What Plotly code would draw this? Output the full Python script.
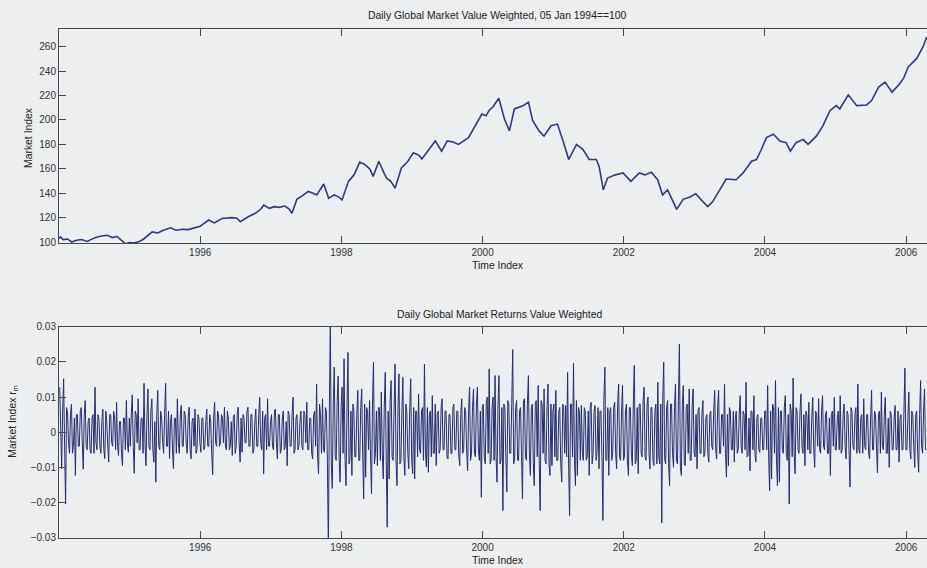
import plotly.graph_objects as go

# ---------------------------------------------------------------------------
# Daily global market index (value weighted, 05 Jan 1994 = 100)
# time in decimal years, index level
# ---------------------------------------------------------------------------
index_time = [
    1994.00, 1994.02, 1994.06, 1994.12, 1994.18, 1994.25, 1994.32, 1994.40, 1994.51, 1994.60,
    1994.68, 1994.76, 1994.82, 1994.90, 1994.94, 1995.00, 1995.06, 1995.14, 1995.20, 1995.32,
    1995.40, 1995.47, 1995.58, 1995.66, 1995.75, 1995.83, 1995.92, 1996.00, 1996.06, 1996.12,
    1996.20, 1996.31, 1996.45, 1996.52, 1996.57, 1996.68, 1996.78, 1996.86, 1996.90, 1996.98,
    1997.05, 1997.11, 1997.20, 1997.26, 1997.30, 1997.37, 1997.45, 1997.53, 1997.60, 1997.65,
    1997.75, 1997.82, 1997.90, 1997.96, 1998.01, 1998.10, 1998.18, 1998.26, 1998.33, 1998.40,
    1998.45, 1998.53, 1998.60, 1998.64, 1998.70, 1998.76, 1998.85, 1998.94, 1999.02, 1999.10,
    1999.14, 1999.24, 1999.33, 1999.42, 1999.50, 1999.58, 1999.66, 1999.80, 1999.89, 1999.99,
    2000.05, 2000.09, 2000.15, 2000.23, 2000.31, 2000.38, 2000.45, 2000.57, 2000.65, 2000.71,
    2000.80, 2000.87, 2000.97, 2001.06, 2001.14, 2001.22, 2001.33, 2001.42, 2001.51, 2001.61,
    2001.65, 2001.71, 2001.77, 2001.88, 2001.99, 2002.10, 2002.22, 2002.30, 2002.39, 2002.48,
    2002.55, 2002.62, 2002.75, 2002.84, 2002.93, 2003.02, 2003.12, 2003.19, 2003.26, 2003.36,
    2003.45, 2003.59, 2003.69, 2003.81, 2003.88, 2003.95, 2004.02, 2004.12, 2004.21, 2004.30,
    2004.36, 2004.44, 2004.54, 2004.61, 2004.73, 2004.82, 2004.92, 2005.01, 2005.06, 2005.18,
    2005.30, 2005.44, 2005.51, 2005.61, 2005.70, 2005.80, 2005.90, 2005.96, 2006.03, 2006.15,
    2006.24, 2006.29,
]
index_level = [
    102.8, 104.2, 102.0, 102.5, 100.0, 101.5, 102.0, 100.5, 103.6, 105.0,
    105.5, 103.6, 104.7, 100.5, 98.6, 99.5, 99.2, 100.5, 102.5, 108.3,
    107.4, 109.5, 111.6, 109.7, 110.5, 110.2, 112.0, 113.0, 115.5, 118.0,
    115.7, 119.3, 120.0, 119.5, 116.6, 120.7, 123.5, 127.0, 130.3, 127.6,
    129.0, 128.4, 129.5, 127.0, 123.5, 135.0, 138.0, 141.4, 140.0, 138.6,
    147.5, 135.9, 138.6, 137.0, 134.5, 149.7, 155.0, 165.4, 163.5, 160.0,
    153.8, 166.2, 157.0, 152.4, 149.7, 144.1, 160.7, 166.0, 173.1, 171.0,
    168.1, 176.0, 182.8, 174.5, 182.8, 182.0, 180.0, 185.5, 195.2, 204.8,
    203.5, 207.6, 211.0, 217.8, 200.7, 191.0, 209.0, 211.7, 214.5, 199.3,
    191.0, 186.9, 195.2, 196.6, 182.8, 167.6, 180.0, 175.9, 167.6, 167.6,
    162.1, 142.8, 152.4, 155.0, 156.6, 149.7, 156.6, 155.0, 157.1, 151.0,
    138.6, 142.8, 126.8, 135.0, 136.7, 139.5, 133.1, 129.0, 133.1, 142.8,
    151.6, 151.0, 156.6, 166.2, 167.6, 176.0, 185.5, 188.3, 182.8, 181.4,
    174.5, 181.4, 184.1, 180.0, 186.9, 195.2, 207.6, 211.7, 209.0, 220.6,
    211.7, 212.3, 215.9, 226.9, 231.0, 222.8, 229.0, 233.8, 243.5, 250.4,
    260.0, 268.0,
]

# ---------------------------------------------------------------------------
# Value-weighted market returns, in per-mille.
# Each calendar year holds 72 evenly spaced observations starting 05 Jan 1994:
# the "a" rows sit on whole steps, the "b" rows on the half steps between them.
# ---------------------------------------------------------------------------
ret_a = {
    1994: [12.8, -10.4, 15.2, -20.4, 5.5, -6, 8.0, -4, -12.3, 5, -4, 7.0, -10.5, 9.0, -5, 4, -6, 5,
           12.8, -5, 4, -6, 6.5, -7.5, 3, -8.5, 5, -4, 4, 8.5, -6.6, 3, -9.5, 4, 9.0, -5.7],
    1995: [-4, 10.6, -11.7, 5, 9.5, -5, 4, 13.9, -9.5, 12.3, -5, 9.5, -8.5, -14.2, 11.9, -5, 4, -6,
           13.9, -4, -7.5, 5, -10.4, 4, 9.5, -6, 7.6, -4, 5, -6, 7.1, -7.6, 4, 6.6, -5, 4],
    1996: [-5.7, 4, -4, 6.6, -4, 3, -12.1, 8.5, -4, 5, -3, 4, 7.1, -5, 4, -4, -6.6, 5,
           -4, 7.1, -8.5, -5.7, 4, -3, 7.1, -4, 5, -5, 6.6, -4, 9.9, -5, -11.8, 5, 9.5, -4],
    1997: [5, -5, 6.6, -7.6, 5, -5, 6, -4, -9.5, 5, -4, 10, -5, 5, -3.8, 6, -5, 5,
           8.5, -5, 4, -7.6, 6, 13.7, -11.8, 5, 9.5, -5.7, 6, -34, 31, -16, 18.5, -8, 16, -14.2],
    1998: [12.8, 20.9, -15.2, 22.7, -8, -12.3, 6, -7, 11.9, -8, 12.3, -19, -12.8, 6, 9, -17.5, 19.9, -6,
           -9.5, 7, 11.4, -13.3, 17, -27, -13.3, 14.7, -8, 19.4, -15.2, 16.6, -8, 15.6, -12.3, 6, -10.4, 15.2],
    1999: [-11.8, -13.3, 6, 10.9, -6, 7, 19.4, -9.9, -11.4, 6, 10.4, -6, -9.5, 6, -5, 9.5, -5, 6,
           -7.6, 5, -6, 8, -5, 6, -9.5, 9.5, -5, 6, -11, 12.8, -6, 12.3, -7, 12.8, -8, -18.5],
    2000: [8, -9, 10, 18, -8, 10, 16.1, -14.2, 16.1, -8, -22.3, 7, -17, 8, -6, 23.5, -7.6, 9,
           -8, 7, -19, 9.5, -8, 16.1, -12.3, 8, -15.2, 9, 13.3, -22.3, 8, 12.3, -9, 13.7, -12.3, -9.5],
    2001: [8, 11.9, -8, 7, -14.2, 7, 7.6, 17, -23.7, 8, 19.6, -15.2, -12.3, 6, 7.6, -8, 6, -7,
           -12.3, 8.5, -6, 7.6, -6, -10.4, 6, -25.1, 18.5, -8, -12.3, 7, -6, 8.5, -10.4, 13.7, -8, 13.3],
    2002: [-7, 8, -12.3, 7, -9.5, 19, -8, -11.8, 8, -7, 12.8, -8, 10, -10.4, 7, -9.5, 8, 14.2,
           -9, -25.8, 19.9, -9, 9, -15.2, 8, -10, 13.7, -9, 25.1, -12.3, 13.3, -9.5, 8, 12.3, -8, 12.3],
    2003: [-7, -10.4, 7, -6, 9, -6, 5, -8.5, 6, -5, 11.9, -7.6, 11.9, -6, 5, 13.7, -12.8, -9.5,
           6, -5, -8.5, 6, -5, 10.4, -6, 5, 14.2, -6.6, -11, 6, 10.4, -8.5, 5, -5.7, 4, -5],
    2004: [6, 13.3, -16.6, -13.3, 7, 14.7, -15.2, -14.2, 6, -6, 10.4, -8, -20.4, 6, 15.4, -11.8, 6, -6,
           10.9, -6, -9.5, 5, 8.5, -6, 9.9, -10, 5, 9.5, -6, 10.4, -5, 6, -6, -12.3, 6, 9.9],
    2005: [-5, 6, 10.4, -5, 8, -7.6, 5, -15.6, 6, -5, 7, 13.7, -6, 5, 9.5, -5, 5, -7.6,
           11.9, -5, 5, -11.6, 6, 11.4, -5, 9.9, -6, -10, 5, -5, 7.6, -5, -8.5, 5, -5, 18.2],
    2006: [-5, 11.4, -7.6, 5, -10, 6, -11.4, 14.7, -6, 12.3, -5],
}
ret_b = {
    1994: [-5, 6, -4, 7, -3, 5, -6, 4, 5, -4, 6, -3, 5, -4, 3, -5, 4, -6,
           -3, 5, -4, 3, -5, 6, -4, 5, -3, 6, -5, -4, 3, -6, 4, -5, -3, 4],
    1995: [5, -4, 6, -3, -5, 4, -6, -3, 5, -4, 6, -5, 3, 5, -4, 6, -3, 5,
           -4, 6, 3, -5, 4, -6, -3, 5, -4, 6, -3, 4, -5, 3, -4, -6, 5, -3],
    1996: [4, -5, 3, -4, 5, -6, 4, -3, 6, -4, 5, -3, -4, 6, -5, 3, 4, -6,
           5, -3, 4, 5, -3, 6, -4, 5, -6, 3, -4, 5, -3, 6, 4, -5, -4, 3],
    1997: [-4, 6, -3, 5, -6, 4, -5, 3, 6, -4, 5, -6, 4, -5, 3, -4, 6, -3,
           -5, 4, -6, 5, -4, -7, 8, -6, -5, 7, -8, 6, -9, 8, -7, 9, -8, 7],
    1998: [-6, -8, 7, -9, 6, 8, -7, 5, -8, 7, -6, 8, 7, -5, -7, 8, -9, 6,
           7, -8, -6, 7, -8, 6, 9, -7, 6, -8, 7, -9, 6, -7, 8, -6, 7, -8],
    1999: [7, 6, -7, -5, 6, -8, -6, 7, 5, -7, -6, 8, 5, -6, 7, -5, 6, -7,
           5, -6, 7, -5, 6, -7, 5, -6, 7, -5, 6, -8, 7, -6, 8, -5, 6, 7],
    2000: [-7, 8, -6, -9, 7, -8, -7, 8, -9, 7, 8, -7, 9, -6, 8, -9, 7, -8,
           6, -7, 9, -7, 8, -6, 7, -9, 8, -7, -8, 9, -6, -8, 7, -9, 8, 6],
    2001: [-7, -8, 6, -9, 8, -6, -7, -9, 8, -7, -8, 9, 7, -8, -6, 7, -8, 6,
           7, -9, 6, -8, 7, 6, -7, 9, -8, 7, 6, -8, 7, -6, 8, -7, 6, -8],
    2002: [6, -8, 7, -6, 8, -9, 7, 8, -6, 9, -7, 8, -6, 7, -8, 6, -9, -7,
           8, 9, -8, 7, -9, 8, -6, 7, -8, 9, -10, 8, -9, 7, -6, -8, 7, -6],
    2003: [5, 6, -6, 5, -7, 4, -6, 5, -4, 6, -5, 7, -6, 5, -4, -6, 5, 7,
           -5, 6, 4, -6, 5, -4, 6, -5, -7, 4, 6, -5, -6, 4, -5, 4, -5, 6],
    2004: [-5, -7, 6, 8, -6, -8, 7, 6, -5, 7, -6, 5, 8, -7, -6, 7, -5, 6,
           -4, 5, 6, -5, -6, 4, -5, 6, -4, -5, 6, -4, 5, -6, 4, 5, -4, -5],
    2005: [4, -5, -6, 5, -4, 6, -5, 7, -4, 5, -6, -5, 4, -6, -4, 5, -6, 4,
           -5, 6, -4, 5, -6, -4, 5, -6, 4, 6, -5, 4, -5, 6, 4, -5, 6, -5],
    2006: [4, -5, 6, -4, 5, -6, 5, -4, 6, -5],
}

START = 1994.01          # 05 Jan 1994
STEP = 1.0 / 36.0        # spacing of the whole steps, in years
points = []
for k, year in enumerate(sorted(ret_a)):
    base = START + k * 36 * STEP
    for i, v in enumerate(ret_a[year]):
        points.append((base + i * STEP, v))
    for i, v in enumerate(ret_b[year]):
        points.append((base + (i + 0.5) * STEP, v))
points.sort()
returns_time = [p[0] for p in points]
returns = [p[1] / 1000.0 for p in points]

year_ticks = [1996, 1998, 2000, 2002, 2004, 2006]
level_ticks = [100, 120, 140, 160, 180, 200, 220, 240, 260]
return_ticks = [-0.03, -0.02, -0.01, 0, 0.01, 0.02, 0.03]
return_tick_text = ["\u22120.03", "\u22120.02", "\u22120.01", "0", "0.01", "0.02", "0.03"]

# ---------------------------------------------------------------------------
W, H = 927, 568
L = 59
BG = "#eceef0"
LINE_TOP = "#2f3b7c"
LINE_BOT = "#242d70"
AX = "#4a4a4a"
FONT = "Liberation Sans, Arial, Helvetica, sans-serif"


def py(px):
    """figure pixel row -> paper fraction"""
    return 1 - px / H


def pxx(px):
    """figure pixel column -> paper fraction of plot width"""
    return (px - L) / (W - L)


fig = go.Figure()
fig.add_trace(go.Scatter(x=index_time, y=index_level, mode="lines",
                         line=dict(color=LINE_TOP, width=1.6), xaxis="x", yaxis="y",
                         showlegend=False, hoverinfo="skip"))
fig.add_trace(go.Scatter(x=returns_time, y=returns, mode="lines",
                         line=dict(color=LINE_BOT, width=1), xaxis="x2", yaxis="y2",
                         showlegend=False, hoverinfo="skip"))

tickfont = dict(family=FONT, size=10, color="#333333")
xcommon = dict(range=[1994.0, 2006.295], tickvals=year_ticks,
               ticktext=[str(t) for t in year_ticks], ticks="inside", ticklen=7,
               tickcolor=AX, tickwidth=1, showline=True, linecolor=AX, linewidth=1,
               mirror="ticks", showgrid=False, zeroline=False, automargin=False,
               tickfont=tickfont)
ycommon = dict(ticks="inside", ticklen=7, tickcolor=AX, tickwidth=1, showline=True,
               linecolor=AX, linewidth=1, mirror=False, showgrid=False, zeroline=False,
               automargin=False, tickfont=tickfont)

fig.update_layout(
    width=W, height=H,
    margin=dict(l=L, r=0, t=0, b=0),
    paper_bgcolor=BG, plot_bgcolor=BG,
    xaxis=dict(xcommon, domain=[0, 1], anchor="y"),
    yaxis=dict(ycommon, domain=[py(243), py(29)], anchor="x",
               range=[99.2, 274.5], tickvals=level_ticks),
    xaxis2=dict(xcommon, domain=[0, 1], anchor="y2"),
    yaxis2=dict(ycommon, domain=[py(537.7), py(326.7)], anchor="x2",
                range=[-0.03, 0.03], tickvals=return_ticks, ticktext=return_tick_text),
)

tf = dict(family=FONT, size=10.4, color="#222222")
ann = [
    dict(text="Daily Global Market Value Weighted, 05 Jan 1994==100", x=pxx(498), y=py(16)),
    dict(text="Time Index", x=pxx(498), y=py(265)),
    dict(text="Daily Global Market Returns Value Weighted", x=pxx(499), y=py(314)),
    dict(text="Time Index", x=pxx(498), y=py(560)),
    dict(text="Market Index", x=pxx(29), y=py(137), textangle=-90),
    dict(text="Market Index r<sub>m</sub>", x=pxx(14), y=py(421.7), textangle=-90),
]
for a in ann:
    fig.add_annotation(xref="paper", yref="paper", showarrow=False,
                       xanchor="center", yanchor="middle", font=tf, **a)

fig.write_html("out.html")
